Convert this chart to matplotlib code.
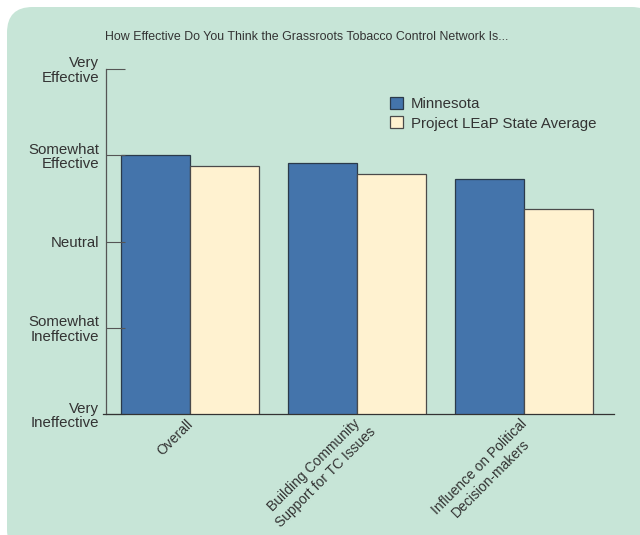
import numpy as np
import matplotlib.pyplot as plt
import matplotlib.transforms as mtrans
from matplotlib.patches import FancyBboxPatch, Patch

# --- data ---
categories = ["Overall", "Building Community\nSupport for TC Issues", "Influence on Political\nDecision-makers"]
minnesota = [4.00, 3.91, 3.72]
leap_avg = [3.87, 3.78, 3.38]
series_names = ["Minnesota", "Project LEaP State Average"]
ytick_labels = ["Very\nIneffective", "Somewhat\nIneffective", "Neutral", "Somewhat\nEffective", "Very\nEffective"]
title = "How Effective Do You Think the Grassroots Tobacco Control Network Is..."

BG = "#c7e5d7"
BLUE = "#4474ab"
CREAM = "#fff2d0"
TXT = "#333333"

plt.rcParams['font.family'] = ['Liberation Sans', 'DejaVu Sans']

W, H = 640, 535
DPI = 100
fig = plt.figure(figsize=(W / DPI, H / DPI), dpi=DPI)
fig.patch.set_facecolor("white")

# rounded panel behind everything
box = FancyBboxPatch((7 / W, -20 / H), (W + 10) / W, (H + 13) / H,
                     boxstyle="round,pad=0,rounding_size=0.04",
                     transform=fig.transFigure, facecolor=BG, edgecolor="none",
                     mutation_aspect=W / H, zorder=-5)
fig.patches.append(box)

ax = fig.add_axes([106 / W, 1 - 414 / H, (614 - 106) / W, (414 - 69) / H])
ax.set_facecolor("none")
ax.set_zorder(2)

x = np.arange(len(categories))
w = 0.416
ax.bar(x - w / 2, minnesota, w, bottom=0, color=BLUE, edgecolor="#2b3a4a", linewidth=0.9)
ax.bar(x + w / 2, leap_avg, w, bottom=0, color=CREAM, edgecolor="#4a4a4a", linewidth=0.9)

ax.set_ylim(1, 5)
ax.set_xlim(-0.503, 2.539)
ax.set_yticks([1, 2, 3, 4, 5])
ax.set_yticklabels(ytick_labels, fontsize=10.8, color=TXT, linespacing=1.05)
ax.tick_params(axis="y", direction="in", length=14, width=0.8, color="#555555", pad=5)

# x labels: first line ends at the category, later lines centred under it
first_lines = [c.split("\n")[0] for c in categories]
second_lines = [c.split("\n")[1] if "\n" in c else "" for c in categories]
XFS = 10
XPAD = 2
NUDGE_PX = -4
ax.set_xticks(x)
ax.set_xticklabels(first_lines, rotation=45, ha="right", va="top", rotation_mode="anchor",
                   fontsize=XFS, color=TXT)
ax.tick_params(axis="x", length=0, pad=XPAD)
nudge = mtrans.ScaledTranslation(NUDGE_PX / DPI, 0, fig.dpi_scale_trans)
for lab in ax.get_xticklabels():
    lab.set_transform(lab.get_transform() + nudge)

renderer = fig.canvas.get_renderer()
u = np.array([np.cos(np.pi / 4), np.sin(np.pi / 4)])    # along text
d = np.array([np.sin(np.pi / 4), -np.cos(np.pi / 4)])   # down, across text
line_px = 16
pad_px = XPAD * DPI / 72
base = mtrans.blended_transform_factory(ax.transData, ax.transAxes)
for xi, first, second in zip(x, first_lines, second_lines):
    if not second:
        continue
    tmp = fig.text(0, 0, first, fontsize=XFS)
    L1 = tmp.get_window_extent(renderer).width
    tmp.remove()
    off = -u * L1 / 2 + d * line_px + np.array([NUDGE_PX, -pad_px])
    tr = base + mtrans.ScaledTranslation(off[0] / DPI, off[1] / DPI, fig.dpi_scale_trans)
    ax.text(xi, 0, second, transform=tr, rotation=45, rotation_mode="anchor",
            ha="center", va="top", fontsize=XFS, color=TXT, clip_on=False)

for s in ["top", "right"]:
    ax.spines[s].set_visible(False)
ax.spines["left"].set_color("#555555")
ax.spines["bottom"].set_color("#333333")
ax.spines["left"].set_linewidth(0.9)
ax.spines["bottom"].set_linewidth(0.9)
ax.spines["bottom"].set_bounds(-0.52, 2.539)

fig.text(105 / W, 1 - 37 / H, title, fontsize=8.9, color=TXT, va="center", ha="left")

handles = [Patch(facecolor=BLUE, edgecolor="#2b3a4a", linewidth=0.9),
           Patch(facecolor=CREAM, edgecolor="#4a4a4a", linewidth=0.9)]
fig.legend(handles, series_names, loc="upper left", bbox_to_anchor=(390 / W, 1 - 97 / H),
           frameon=False, fontsize=10.8, handlelength=0.85, handleheight=0.85,
           handletextpad=0.55, labelspacing=0.35, borderaxespad=0, borderpad=0,
           labelcolor=TXT)

fig.savefig("out.png", dpi=DPI, facecolor="white")
